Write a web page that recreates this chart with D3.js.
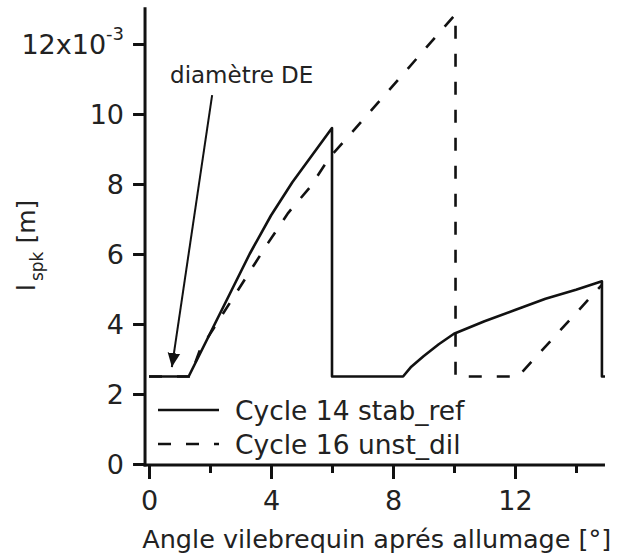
<!DOCTYPE html>
<html><head><meta charset="utf-8">
<script src="https://cdn.jsdelivr.net/npm/d3@7"></script>
<style>
body{margin:0;background:#fff;}
text{font-family:"DejaVu Sans",sans-serif;fill:#222;}
</style></head>
<body>
<svg id="c" width="619" height="559"></svg>
<script>
// ---- data ----
const solidX = [0, 1.3, 2.1, 2.7, 3.3, 4.0, 4.7, 6.0, 6.0, 8.33, 8.6, 9.0, 9.5, 10.0, 11.0, 12.0, 13.0, 14.0, 14.85, 14.85, 14.95];
const solidY = [2.5, 2.5, 3.9, 4.95, 6.0, 7.1, 8.05, 9.6, 2.5, 2.5, 2.78, 3.08, 3.42, 3.72, 4.08, 4.4, 4.72, 4.98, 5.22, 2.5, 2.5];
const dashX = [0, 1.35, 1.67, 2.75, 3.9, 4.56, 5.28, 5.93, 6.52, 10.05, 10.05, 12.1, 14.85];
const dashY = [2.5, 2.5, 3.26, 4.74, 6.31, 7.17, 7.91, 8.77, 9.34, 12.85, 2.5, 2.5, 5.12];
const xMajor = [0, 4, 8, 12];
const xMinor = [2, 6, 10, 14];
const yTicks = [0, 2, 4, 6, 8, 10, 12];
const seriesNames = ["Cycle 14 stab_ref", "Cycle 16 unst_dil"];
const xTitle = "Angle vilebrequin aprés allumage [°]";
const annotation = {text: "diamètre DE", tx: 0.69, ty: 10.89, x1: 2.07, y1: 10.54, x2: 0.75, y2: 2.77};

const svg = d3.select("#c");
const x = d3.scaleLinear().domain([0, 15]).range([149, 606.5]);
const y = d3.scaleLinear().domain([0, 12]).range([464, 44]);

svg.append("defs").append("marker").attr("id","ah").attr("viewBox","0 0 10 10")
  .attr("refX",10).attr("refY",5).attr("markerWidth",14).attr("markerHeight",14)
  .attr("markerUnits","userSpaceOnUse").attr("orient","auto")
  .append("path").attr("d","M0,0.5 L10,5 L0,9.5 Z").attr("fill","#111");

const ax = svg.append("g").attr("stroke","#111").attr("stroke-width",3).attr("fill","none");
ax.append("line").attr("x1", x(-0.13)).attr("x2", x(-0.13)).attr("y1", y(13.05)).attr("y2", y(0)+2.5);
ax.append("line").attr("x1", x(-0.18)).attr("x2", x(14.95)).attr("y1", y(0)+1).attr("y2", y(0)+1);

const xAxis = svg.append("g").attr("transform", `translate(0,${y(0)+1})`)
  .call(d3.axisBottom(x).tickValues(xMajor).tickSize(14).tickPadding(12).tickFormat(d3.format("d")));
xAxis.select(".domain").remove();
xAxis.selectAll(".tick line").attr("stroke","#111").attr("stroke-width",3);
xAxis.selectAll(".tick text").attr("font-size",27).attr("font-family","DejaVu Sans").attr("fill","#222");
const xAxisMinor = svg.append("g").attr("transform", `translate(0,${y(0)+1})`)
  .call(d3.axisBottom(x).tickValues(xMinor).tickSize(8).tickFormat(""));
xAxisMinor.select(".domain").remove();
xAxisMinor.selectAll(".tick line").attr("stroke","#111").attr("stroke-width",3);

const yAxis = svg.append("g").attr("transform", `translate(${x(-0.13)},0)`)
  .call(d3.axisLeft(y).tickValues(yTicks).tickSize(12).tickPadding(6).tickFormat(""));
yAxis.select(".domain").remove();
yAxis.selectAll(".tick line").attr("stroke","#111").attr("stroke-width",3);
yAxis.selectAll(".tick").each(function(d){
  const t = d3.select(this).append("text").attr("x",-21).attr("dy","0.36em")
    .attr("text-anchor","end").attr("font-size",27).attr("fill","#222");
  if (d === 12) {
    t.append("tspan").text("12x10");
    t.append("tspan").attr("font-size",18).attr("dy","-0.8em").text("-3");
  } else t.text(d);
});

svg.append("text").attr("x", (x(0)+x(15))/2 - 1).attr("y", 548).attr("text-anchor","middle")
  .attr("font-size",25.5).text(xTitle);

const yt = svg.append("text").attr("transform",`translate(35,291) rotate(-90)`)
  .attr("text-anchor","start").attr("font-size",25);
yt.append("tspan").text("l");
yt.append("tspan").attr("font-size",17).attr("dx",3).attr("dy",8).text("spk");
yt.append("tspan").attr("dy",-8).text(" [m]");

const line = d3.line().x(d => x(d[0])).y(d => y(d[1]));
svg.append("path").datum(d3.zip(solidX, solidY)).attr("d", line)
  .attr("fill","none").attr("stroke","#111").attr("stroke-width",2.6).attr("stroke-linejoin","round");
svg.append("path").datum(d3.zip(dashX, dashY)).attr("d", line)
  .attr("fill","none").attr("stroke","#111").attr("stroke-width",2.6).attr("stroke-dasharray","13,15");

svg.append("text").attr("x", x(annotation.tx)).attr("y", y(annotation.ty)).attr("font-size",23)
  .text(annotation.text);
svg.append("line").attr("x1", x(annotation.x1)).attr("y1", y(annotation.y1))
  .attr("x2", x(annotation.x2)).attr("y2", y(annotation.y2))
  .attr("stroke","#111").attr("stroke-width",2).attr("marker-end","url(#ah)");

const lg = svg.append("g");
const rows = [{name: seriesNames[0], dash: null, yy: 410}, {name: seriesNames[1], dash: "13,15", yy: 444}];
rows.forEach(r => {
  lg.append("line").attr("x1",158).attr("x2",219).attr("y1",r.yy).attr("y2",r.yy)
    .attr("stroke","#111").attr("stroke-width",2.6).attr("stroke-dasharray", r.dash);
  lg.append("text").attr("x",235).attr("y",r.yy).attr("dy","0.36em").attr("font-size",26.5).text(r.name);
});
</script>
</body></html>
